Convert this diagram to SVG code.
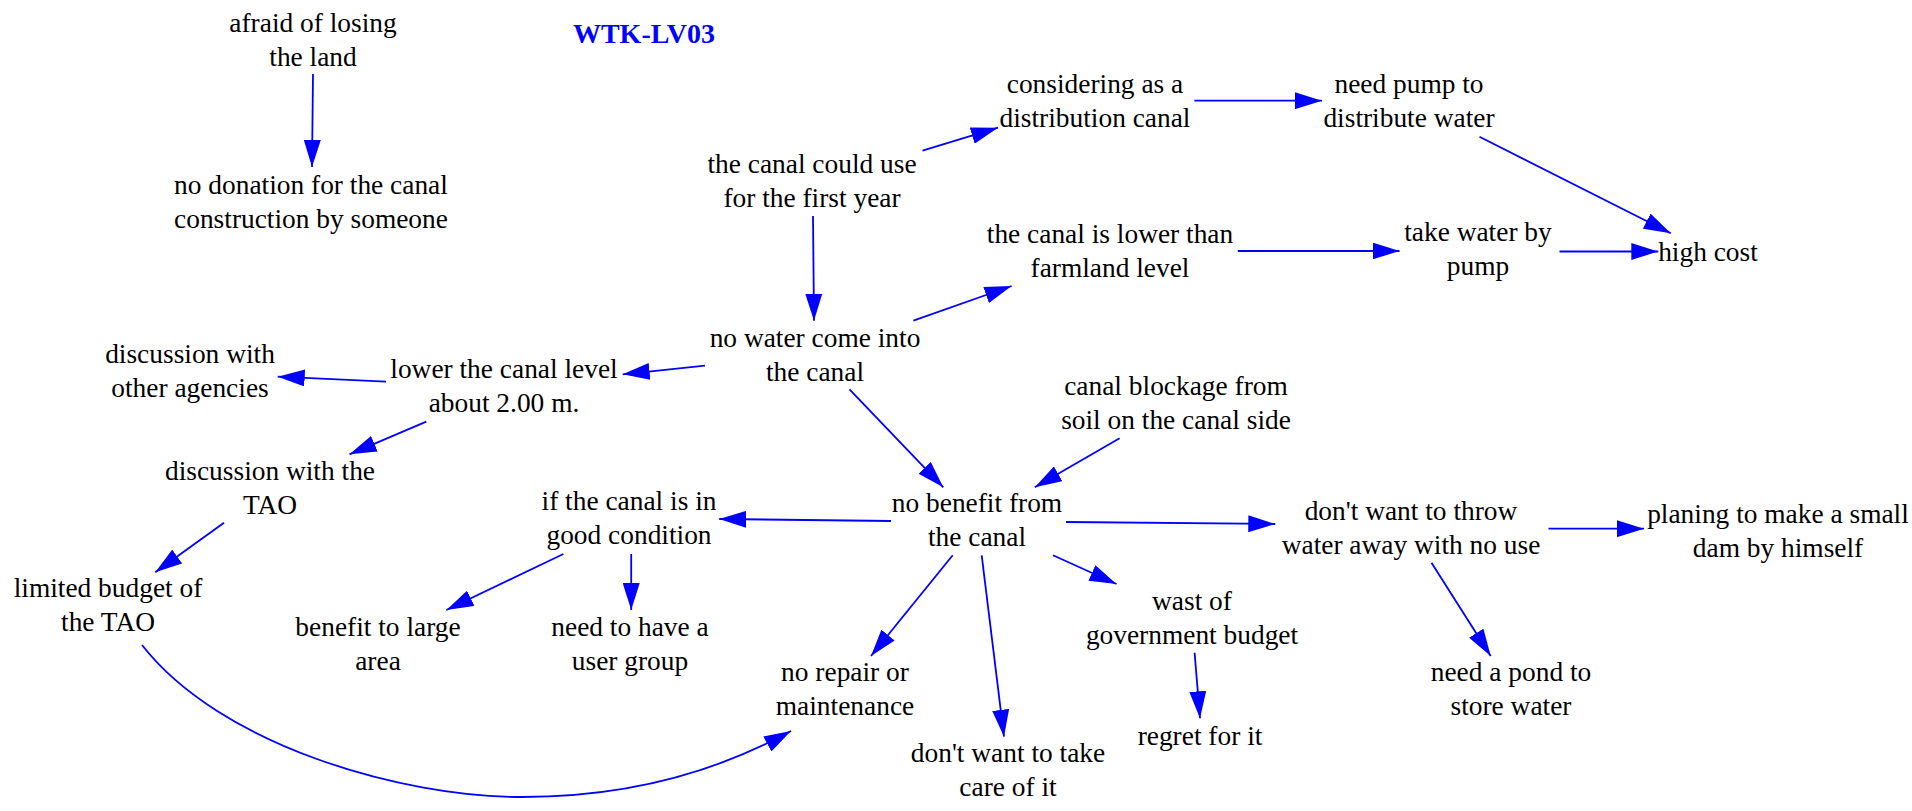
<svg xmlns="http://www.w3.org/2000/svg" width="1912" height="811" viewBox="0 0 1912 811">
  <defs>
    <style>
      .lbl { font-family: "Liberation Serif", "Times New Roman", serif; font-size: 27.4px; fill: #000; text-anchor: middle; }
      .title { font-family: "Liberation Serif", "Times New Roman", serif; font-size: 28px; font-weight: bold; fill: #0000ff; text-anchor: middle; }
      .edge { fill: none; stroke: #0000ff; stroke-width: 1.8; marker-end: url(#arrow); }
    </style>
    <marker id="arrow" markerUnits="userSpaceOnUse" viewBox="0 0 27 17" markerWidth="27" markerHeight="17" refX="27" refY="8.5" orient="auto">
      <path d="M0,0 L27,8.5 L0,17 z" fill="#0000ff"/>
    </marker>
  </defs>
  <rect width="1912" height="811" fill="#ffffff"/>

  <text class="title" x="644" y="43">WTK-LV03</text>

  <!-- connectors -->
  <g id="edges">
    <path class="edge" d="M313,74 L312,167"/>
    <path class="edge" d="M922.5,150.7 L998,127.7"/>
    <path class="edge" d="M1194.4,100.7 L1322,100.7"/>
    <path class="edge" d="M1479.5,136.7 L1670.8,233.3"/>
    <path class="edge" d="M813,216 L814,320.7"/>
    <path class="edge" d="M913.4,320.7 L1011.6,286"/>
    <path class="edge" d="M1237.8,251 L1399.5,251"/>
    <path class="edge" d="M1559.5,251.5 L1658.3,251.5"/>
    <path class="edge" d="M705,365.7 L622.7,374.3"/>
    <path class="edge" d="M386,381.7 L277.7,376.7"/>
    <path class="edge" d="M426.3,421.7 L349.5,454.3"/>
    <path class="edge" d="M224,522.7 L155.3,572.3"/>
    <path class="edge" d="M142,645 C220,745 400,797 522,797 C630,797 720,770 791,731"/>
    <path class="edge" d="M849.5,389.3 L943.3,487.3"/>
    <path class="edge" d="M1119.6,438.3 L1034.8,487.3"/>
    <path class="edge" d="M891,521 L719.2,519"/>
    <path class="edge" d="M563.4,554 L446.4,610"/>
    <path class="edge" d="M631.2,554 L631.2,610"/>
    <path class="edge" d="M1066,522 L1275.3,524"/>
    <path class="edge" d="M952.7,555.3 L871,656"/>
    <path class="edge" d="M981.7,555.3 L1004,736.7"/>
    <path class="edge" d="M1053,555.3 L1116.5,584"/>
    <path class="edge" d="M1194.6,652.7 L1200,718.3"/>
    <path class="edge" d="M1548.5,528.7 L1644,528.7"/>
    <path class="edge" d="M1431.5,562.7 L1490.7,656"/>
  </g>

  <!-- nodes -->
  <g id="afraid"><text class="lbl" x="313" y="32">afraid of losing<tspan x="313" dy="34">the land</tspan></text></g>
  <g id="no_donation"><text class="lbl" x="311" y="194">no donation for the canal<tspan x="311" dy="34">construction by someone</tspan></text></g>
  <g id="considering"><text class="lbl" x="1095" y="93">considering as a<tspan x="1095" dy="34">distribution canal</tspan></text></g>
  <g id="could_use"><text class="lbl" x="812" y="173">the canal could use<tspan x="812" dy="34">for the first year</tspan></text></g>
  <g id="canal_lower"><text class="lbl" x="1110" y="243">the canal is lower than<tspan x="1110" dy="34">farmland level</tspan></text></g>
  <g id="need_pump"><text class="lbl" x="1409" y="93">need pump to<tspan x="1409" dy="34">distribute water</tspan></text></g>
  <g id="take_water"><text class="lbl" x="1478" y="241">take water by<tspan x="1478" dy="34">pump</tspan></text></g>
  <g id="high_cost"><text class="lbl" x="1708" y="261">high cost</text></g>
  <g id="discussion_agencies"><text class="lbl" x="190" y="363">discussion with<tspan x="190" dy="34">other agencies</tspan></text></g>
  <g id="lower_level"><text class="lbl" x="504" y="378">lower the canal level<tspan x="504" dy="34">about 2.00 m.</tspan></text></g>
  <g id="discussion_tao"><text class="lbl" x="270" y="480">discussion with the<tspan x="270" dy="34">TAO</tspan></text></g>
  <g id="limited_budget"><text class="lbl" x="108" y="597">limited budget of<tspan x="108" dy="34">the TAO</tspan></text></g>
  <g id="good_condition"><text class="lbl" x="629" y="510">if the canal is in<tspan x="629" dy="34">good condition</tspan></text></g>
  <g id="benefit_large"><text class="lbl" x="378" y="636">benefit to large<tspan x="378" dy="34">area</tspan></text></g>
  <g id="user_group"><text class="lbl" x="630" y="636">need to have a<tspan x="630" dy="34">user group</tspan></text></g>
  <g id="no_water"><text class="lbl" x="815" y="347">no water come into<tspan x="815" dy="34">the canal</tspan></text></g>
  <g id="blockage"><text class="lbl" x="1176" y="395">canal blockage from<tspan x="1176" dy="34">soil on the canal side</tspan></text></g>
  <g id="no_benefit"><text class="lbl" x="977" y="512">no benefit from<tspan x="977" dy="34">the canal</tspan></text></g>
  <g id="no_repair"><text class="lbl" x="845" y="681">no repair or<tspan x="845" dy="34">maintenance</tspan></text></g>
  <g id="take_care"><text class="lbl" x="1008" y="762">don't want to take<tspan x="1008" dy="34">care of it</tspan></text></g>
  <g id="wast"><text class="lbl" x="1192" y="610">wast of<tspan x="1192" dy="34">government budget</tspan></text></g>
  <g id="regret"><text class="lbl" x="1200" y="745">regret for it</text></g>
  <g id="throw_away"><text class="lbl" x="1411" y="520">don't want to throw<tspan x="1411" dy="34">water away with no use</tspan></text></g>
  <g id="small_dam"><text class="lbl" x="1778" y="523">planing to make a small<tspan x="1778" dy="34">dam by himself</tspan></text></g>
  <g id="pond"><text class="lbl" x="1511" y="681">need a pond to<tspan x="1511" dy="34">store water</tspan></text></g>
</svg>
